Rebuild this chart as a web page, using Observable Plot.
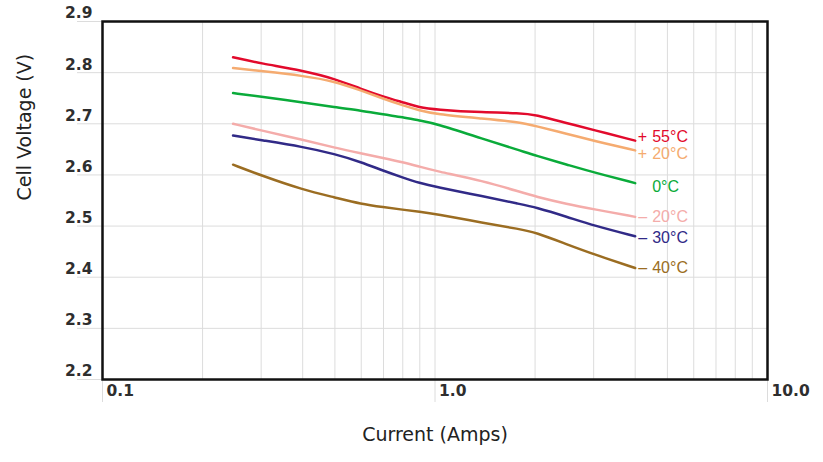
<!DOCTYPE html>
<html>
<head>
<meta charset="utf-8">
<script src="https://cdn.jsdelivr.net/npm/d3@7"></script>
<script src="https://cdn.jsdelivr.net/npm/@observablehq/plot@0.6"></script>
<style>
  html, body { margin: 0; padding: 0; background: #fff; }
</style>
</head>
<body>
<div id="chart"></div>
<script>
// Data
const current = [0.247, 0.3, 0.4, 0.5, 0.6, 0.7, 0.8, 0.9, 1.0, 1.4, 1.8, 2.0, 2.5, 3.0, 4.0];
const temps = [55, 20, 0, -20, -30, -40];
const v55  = [2.830, 2.818, 2.804, 2.788, 2.768, 2.753, 2.742, 2.732, 2.728, 2.722, 2.721, 2.718, 2.701, 2.688, 2.667];
const v20  = [2.809, 2.803, 2.794, 2.783, 2.765, 2.749, 2.736, 2.726, 2.719, 2.710, 2.703, 2.696, 2.680, 2.667, 2.648];
const v0   = [2.760, 2.753, 2.742, 2.732, 2.726, 2.718, 2.713, 2.706, 2.701, 2.670, 2.648, 2.638, 2.620, 2.605, 2.584];
const vm20 = [2.700, 2.687, 2.669, 2.653, 2.642, 2.633, 2.625, 2.616, 2.608, 2.588, 2.567, 2.558, 2.543, 2.533, 2.518];
const vm30 = [2.677, 2.668, 2.655, 2.641, 2.625, 2.608, 2.595, 2.584, 2.577, 2.558, 2.543, 2.537, 2.518, 2.501, 2.480];
const vm40 = [2.620, 2.599, 2.571, 2.556, 2.543, 2.537, 2.532, 2.528, 2.524, 2.506, 2.494, 2.488, 2.464, 2.445, 2.418];
const seriesValues = [v55, v20, v0, vm20, vm30, vm40];

const yTicks = [2.2, 2.3, 2.4, 2.5, 2.6, 2.7, 2.8, 2.9];
const xTicks = [0.1, 1, 10];
const xTickLabels = ["0.1", "1.0", "10.0"];
const xMinor = [0.2, 0.3, 0.4, 0.5, 0.6, 0.7, 0.8, 0.9, 2, 3, 4, 5, 6, 7, 8, 9];

const colors = ["#e20a2c", "#f5ab70", "#0aab3a", "#f4acaa", "#312a87", "#9b6d22"];

const seriesName = t => (t > 0 ? "+" : t < 0 ? "–" : "") + Math.abs(t) + "°C";
const names = temps.map(seriesName);

const rows = [];
temps.forEach((t, i) => {
  current.forEach((c, j) => rows.push({series: names[i], current: c, volt: seriesValues[i][j]}));
});

const labelDy = [-4, 3, 4, 0, 2, 0];
const labels = temps.map((t, i) => ({
  series: names[i],
  sign: t > 0 ? "+" : t < 0 ? "–" : "",
  text: Math.abs(t) + "°C",
  current: current[current.length - 1],
  volt: seriesValues[i][current.length - 1],
  dy: labelDy[i]
}));

const chart = Plot.plot({
  width: 823,
  height: 462,
  marginLeft: 102,
  marginRight: 56,
  marginTop: 21,
  marginBottom: 83,
  style: {fontFamily: "DejaVu Sans", background: "#fff"},
  x: {type: "log", domain: [0.1, 10], axis: null},
  y: {domain: [2.2, 2.9], axis: null},
  color: {domain: names, range: colors},
  marks: [
    Plot.ruleX(xMinor, {stroke: "#dcdcdc", strokeWidth: 1}),
    Plot.ruleX(xTicks, {stroke: "#dcdcdc", strokeWidth: 1, insetBottom: -23}),
    Plot.ruleY(yTicks, {stroke: "#dcdcdc", strokeWidth: 1, insetLeft: -25}),
    Plot.text(yTicks, {
      y: d => d, frameAnchor: "left", text: d => d.toFixed(1),
      textAnchor: "end", dx: -10, dy: -8, fontSize: 15.5, fontWeight: "bold", fill: "#2e2e2e"
    }),
    Plot.text(xTicks, {
      x: d => d, frameAnchor: "bottom", text: (d, i) => xTickLabels[i],
      textAnchor: "start", dx: 4, dy: 16, fontSize: 15.5, fontWeight: "bold", fill: "#2e2e2e"
    }),
    Plot.frame({stroke: "#111", strokeWidth: 2.5}),
    Plot.line(rows, {
      x: "current", y: "volt", z: "series", stroke: "series",
      strokeWidth: 2.5, curve: "basis"
    }),
    ...labels.map(l => Plot.text([l], {
      x: "current", y: "volt", text: "sign", fill: "series",
      textAnchor: "end", dx: 12, dy: l.dy, fontSize: 16, fontFamily: "Liberation Sans"
    })),
    ...labels.map(l => Plot.text([l], {
      x: "current", y: "volt", text: "text", fill: "series",
      textAnchor: "start", dx: 17, dy: l.dy, fontSize: 16, fontFamily: "Liberation Sans"
    })),
    Plot.text(["Cell Voltage (V)"], {
      frameAnchor: "left", rotate: -90, dx: -78, fontSize: 19, fill: "#222"
    }),
    Plot.text(["Current (Amps)"], {
      frameAnchor: "bottom", dy: 61, fontSize: 19, fill: "#222"
    })
  ]
});

document.getElementById("chart").appendChild(chart);
</script>
</body>
</html>
